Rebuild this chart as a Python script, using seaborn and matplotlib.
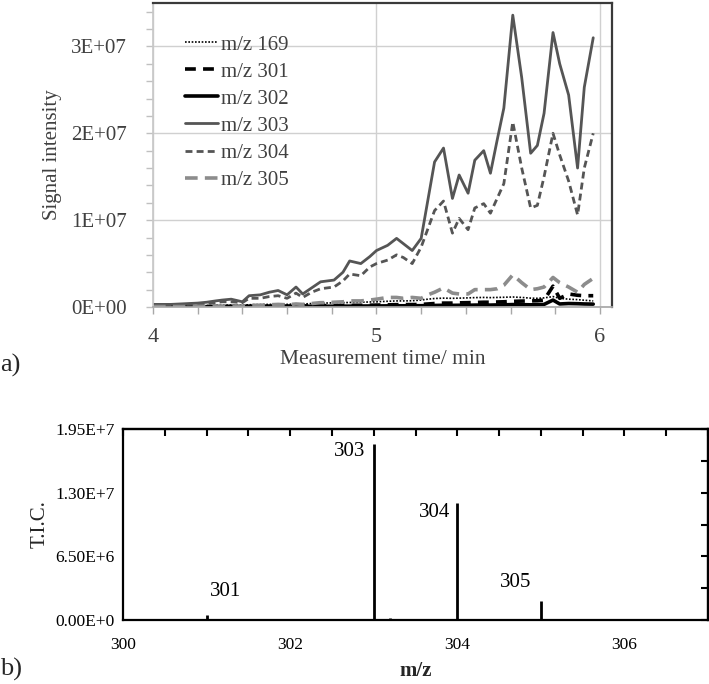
import matplotlib
matplotlib.use("Agg")
import matplotlib.pyplot as plt
import matplotlib.ticker as mticker
import numpy as np
import pandas as pd
import seaborn as sns

sns.set_theme(style="white")
plt.rcParams["font.family"] = ["Liberation Serif", "DejaVu Serif"]

# ---- panel a) time traces (values in units of 1e6 counts) ----
time_min = [4.00, 4.04, 4.08, 4.12, 4.16, 4.20, 4.24, 4.28, 4.31, 4.35,
            4.40, 4.43, 4.48, 4.52, 4.56, 4.60, 4.64, 4.67, 4.71, 4.75,
            4.78, 4.81, 4.85, 4.88, 4.93, 4.97, 5.00, 5.05, 5.09, 5.12,
            5.16, 5.20, 5.23, 5.26, 5.30, 5.34, 5.37, 5.41, 5.44, 5.48,
            5.51, 5.54, 5.57, 5.61, 5.65, 5.69, 5.72, 5.75, 5.79, 5.82,
            5.86, 5.90, 5.93, 5.97]

mz169 = [0.10, 0.10, 0.12, 0.12, 0.14, 0.15, 0.16, 0.18, 0.20, 0.22,
         0.22, 0.26, 0.28, 0.30, 0.32, 0.30, 0.36, 0.34, 0.40, 0.44,
         0.46, 0.48, 0.50, 0.52, 0.55, 0.58, 0.60, 0.66, 0.70, 0.70,
         0.72, 0.80, 0.90, 0.98, 1.02, 1.00, 1.02, 1.05, 1.08, 1.10,
         1.08, 1.10, 1.12, 1.15, 1.10, 1.02, 1.00, 1.05, 1.20, 1.00,
         0.90, 0.85, 0.78, 0.70]
mz301 = [0.04, 0.04, 0.04, 0.05, 0.05, 0.05, 0.06, 0.06, 0.07, 0.07,
         0.07, 0.08, 0.09, 0.10, 0.10, 0.10, 0.12, 0.12, 0.14, 0.15,
         0.16, 0.17, 0.18, 0.19, 0.20, 0.21, 0.22, 0.25, 0.27, 0.28,
         0.28, 0.30, 0.35, 0.40, 0.45, 0.45, 0.48, 0.50, 0.52, 0.55,
         0.55, 0.58, 0.60, 0.65, 0.68, 0.70, 0.72, 0.80, 2.40, 1.00,
         1.50, 1.35, 1.30, 1.30]
mz302 = [0.02, 0.02, 0.02, 0.02, 0.03, 0.03, 0.03, 0.03, 0.04, 0.04,
         0.04, 0.05, 0.05, 0.05, 0.06, 0.06, 0.07, 0.07, 0.08, 0.08,
         0.09, 0.09, 0.10, 0.10, 0.11, 0.12, 0.12, 0.13, 0.14, 0.14,
         0.15, 0.15, 0.17, 0.18, 0.20, 0.19, 0.20, 0.20, 0.22, 0.23,
         0.22, 0.24, 0.25, 0.28, 0.27, 0.25, 0.26, 0.30, 0.80, 0.35,
         0.40, 0.38, 0.35, 0.33]
mz303 = [0.30, 0.30, 0.30, 0.35, 0.40, 0.45, 0.55, 0.70, 0.80, 0.90,
         0.60, 1.30, 1.40, 1.70, 1.90, 1.40, 2.30, 1.50, 2.20, 2.90,
         3.00, 3.10, 4.00, 5.30, 5.00, 5.80, 6.50, 7.10, 7.90, 7.30,
         6.50, 7.90, 12.3, 16.7, 18.3, 12.5, 15.2, 13.1, 16.9, 18.0,
         15.4, 19.2, 22.9, 33.6, 26.4, 17.7, 18.6, 22.3, 31.6, 28.0,
         24.4, 16.0, 25.3, 31.0]
mz304 = [0.25, 0.25, 0.25, 0.30, 0.30, 0.35, 0.40, 0.50, 0.60, 0.60,
         0.50, 1.00, 1.00, 1.20, 1.30, 1.00, 1.60, 1.10, 1.70, 2.10,
         2.20, 2.30, 3.00, 3.80, 3.60, 4.60, 5.00, 5.40, 6.00, 5.70,
         5.00, 6.90, 9.00, 11.1, 12.2, 8.50, 10.2, 8.90, 11.4, 11.9,
         10.8, 12.5, 14.2, 21.3, 16.0, 11.4, 11.7, 15.0, 20.0, 17.5,
         14.5, 10.6, 16.0, 20.0]
mz305 = [0.05, 0.05, 0.05, 0.05, 0.06, 0.07, 0.08, 0.10, 0.10, 0.12,
         0.10, 0.20, 0.20, 0.25, 0.30, 0.25, 0.35, 0.30, 0.40, 0.50,
         0.50, 0.55, 0.60, 0.70, 0.70, 0.80, 0.90, 1.10, 1.10, 1.00,
         1.10, 1.00, 1.40, 1.70, 2.20, 1.60, 1.50, 1.50, 2.00, 2.00,
         2.00, 2.10, 2.50, 3.70, 2.80, 2.00, 2.10, 2.30, 3.40, 2.80,
         2.30, 1.70, 2.60, 3.30]

series_labels = ["m/z 169", "m/z 301", "m/z 302", "m/z 303", "m/z 304", "m/z 305"]
series_values = [mz169, mz301, mz302, mz303, mz304, mz305]

# ---- panel b) mass spectrum ----
spec_mz = [301.0, 303.0, 303.2, 304.0, 305.0, 305.3, 306.0]
spec_tic = [0.5e6, 1.80e7, 0.25e6, 1.19e7, 1.94e6, 0.10e6, 0.15e6]
peak_labels = ["301", "303", "304", "305"]

# styles
styles = {
    "m/z 169": dict(color="black", lw=1.2, ls=(0, (1, 1))),
    "m/z 301": dict(color="black", lw=2.6, ls=(0, (3, 2))),
    "m/z 302": dict(color="black", lw=2.6, ls="-"),
    "m/z 303": dict(color="#555555", lw=2.0, ls="-"),
    "m/z 304": dict(color="#555555", lw=2.0, ls=(0, (2.5, 1.5))),
    "m/z 305": dict(color="#8c8c8c", lw=2.6, ls=(0, (3.5, 2))),
}
grey_txt = "#404040"

fig = plt.figure(figsize=(7.09, 6.84), dpi=100)

# ---------------- panel a ----------------
ax1 = fig.add_axes([153 / 709, 1 - 307 / 684, 459 / 709, 304 / 684])
for lab, vals in zip(series_labels, series_values):
    st = styles[lab]
    sns.lineplot(x=time_min, y=np.array(vals) * 1e6, ax=ax1, label=lab,
                 color=st["color"], linewidth=st["lw"], linestyle=st["ls"])

ax1.set_xlim(4, 6.054)
ax1.set_ylim(0, 3.5e7)
ax1.xaxis.set_major_locator(mticker.MultipleLocator(1))
ax1.xaxis.set_minor_locator(mticker.MultipleLocator(0.2))
ax1.yaxis.set_major_locator(mticker.MultipleLocator(1e7))
ax1.yaxis.set_minor_locator(mticker.MultipleLocator(2e6))
ax1.yaxis.set_major_formatter(mticker.FuncFormatter(lambda v, p: f"{v:.0E}"))
ax1.grid(True, which="major", color="#d0d0d0", lw=1.0)
ax1.set_axisbelow(True)
for side in ["top", "right"]:
    ax1.spines[side].set_color("#3a3a3a")
    ax1.spines[side].set_linewidth(1.6)
ax1.spines["left"].set_color("#c8c8c8")
ax1.spines["bottom"].set_color("#a8a8a8")
ax1.tick_params(axis="y", which="both", left=True, direction="out",
                color="#c0c0c0", length=5, width=1, labelsize=15,
                labelcolor=grey_txt, pad=14)
ax1.tick_params(axis="x", which="both", bottom=True, direction="out",
                color="#a8a8a8", length=5, width=1, labelsize=16,
                labelcolor=grey_txt, pad=10)
ax1.set_xlabel("Measurement time/ min", fontsize=15.5, color=grey_txt, labelpad=2)
ax1.set_ylabel("Signal intensity", fontsize=15, color=grey_txt, labelpad=6)
leg = ax1.legend(loc="upper left", bbox_to_anchor=(0.07, 0.895), frameon=False,
                 fontsize=15, handlelength=1.6, handletextpad=0.1,
                 labelspacing=0.36, borderaxespad=0, borderpad=0,
                 labelcolor=grey_txt)

# ---------------- panel b ----------------
ax2 = fig.add_axes([123 / 709, 1 - 620 / 684, 585 / 709, 191 / 684])
ax2.vlines(spec_mz, 0, spec_tic, color="black", lw=2.0)
ax2.set_xlim(300, 307)
ax2.set_ylim(0, 1.95e7)
ax2.set_facecolor("white")
ax2.grid(False)


def sci_fmt(v, p):
    if v == 0:
        return "0.00E+0"
    e = int(np.floor(np.log10(abs(v))))
    return f"{v / 10 ** e:.2f}E+{e}"


ax2.xaxis.set_major_locator(mticker.MultipleLocator(2))
ax2.xaxis.set_minor_locator(mticker.MultipleLocator(0.5))
ax2.yaxis.set_major_locator(mticker.MultipleLocator(6.5e6))
ax2.yaxis.set_minor_locator(mticker.MultipleLocator(3.25e6))
ax2.yaxis.set_major_formatter(mticker.FuncFormatter(sci_fmt))
for side in ["top", "right", "left", "bottom"]:
    ax2.spines[side].set_color("black")
    ax2.spines[side].set_linewidth(1.6)
ax2.tick_params(axis="both", which="both", direction="out", color="black",
                length=5, width=1.5, labelsize=12.5, labelcolor="black")
ax2.tick_params(axis="y", pad=1)
ax2.tick_params(axis="x", pad=7)
ax2.tick_params(axis="x", which="minor", length=5)

sec_x = ax2.secondary_xaxis("top")
sec_x.xaxis.set_major_locator(mticker.MultipleLocator(0.5))
sec_x.tick_params(direction="in", length=5, width=1.5, color="black", labeltop=False)
sec_x.spines["top"].set_linewidth(1.6)
sec_y = ax2.secondary_yaxis("right")
sec_y.yaxis.set_major_locator(mticker.MultipleLocator(3.25e6))
sec_y.tick_params(direction="in", length=5, width=1.5, color="black", labelright=False)
sec_y.spines["right"].set_linewidth(1.6)

ax2.set_xlabel("m/z", fontsize=15, fontweight="bold", labelpad=6)
ax2.set_ylabel("T.I.C.", fontsize=15, labelpad=4)

# peak labels: (x, y) anchor for each labelled peak
label_pos = [(301.23, 2.86e6), (302.90, 1.725e7), (303.92, 1.10e7), (304.70, 3.78e6)]
for txt, (lx, ly) in zip(peak_labels, label_pos):
    ha = "center" if txt in ("301", "305") else "right"
    ax2.text(lx, ly, txt, fontsize=15, ha=ha, va="center", color="black")

fig.text(0.0, 1 - 365 / 684, "a)", fontsize=19, va="center", ha="left")
fig.text(0.0, 1 - 669 / 684, "b)", fontsize=19, va="center", ha="left")

fig.savefig("out.png", dpi=100)
